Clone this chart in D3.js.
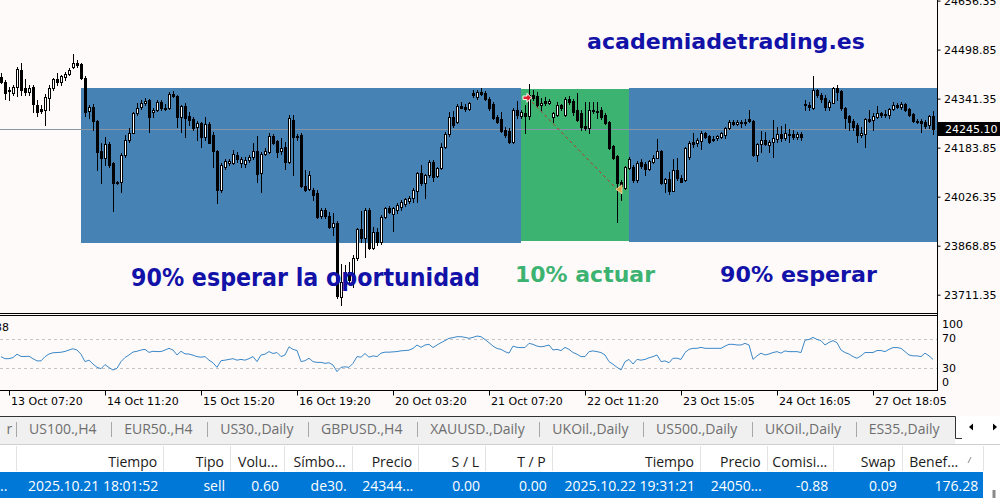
<!DOCTYPE html>
<html><head><meta charset="utf-8">
<script src="https://cdn.jsdelivr.net/npm/d3@7"></script>
<style>html,body{margin:0;padding:0;background:#fffafa;overflow:hidden}</style>
</head><body><svg id="c" width="1000" height="498"></svg>
<script>
// ---------------- DATA ----------------
const open=[24410,24394,24365,24359,24378,24433,24375,24362,24378,24321,
24308,24304,24343,24375,24404,24394,24410,24420,24443,24455,
24452,24407,24301,24314,24269,24173,24150,24195,24134,24070,
24073,24160,24208,24230,24295,24314,24327,24337,24298,24304,
24330,24311,24311,24356,24349,24282,24317,24285,24276,24250,
24263,24218,24260,24224,24173,24047,24121,24134,24134,24160,
24134,24131,24144,24153,24173,24102,24163,24169,24221,24205,
24173,24185,24137,24272,24221,24224,24060,24051,24047,24038,
23964,23983,23964,23929,23941,23704,23742,23784,23758,23829,
23922,23893,23983,23861,23912,23880,23961,23990,23970,23983,
23993,24002,24012,24022,24044,24102,24070,24096,24137,24092,
24118,24185,24227,24282,24266,24317,24314,24308,24359,24346,
24362,24359,24340,24324,24282,24276,24240,24237,24202,24304,
24285,24295,24285,24353,24349,24321,24333,24327,24282,24288,
24321,24288,24340,24333,24304,24295,24253,24247,24304,24301,
24304,24288,24266,24189,24157,24073,24054,24118,24121,24080,
24137,24131,24115,24137,24150,24173,24070,24083,24044,24112,
24086,24080,24153,24202,24198,24205,24230,24221,24211,24214,
24218,24224,24247,24266,24260,24266,24263,24276,24269,24160,
24195,24208,24192,24202,24211,24227,24214,24227,24227,24218,
24227,24324,24321,24311,24369,24353,24343,24314,24327,24375,
24365,24311,24285,24269,24256,24224,24227,24276,24272,24282,
24295,24292,24288,24308,24321,24314,24324,24308,24292,24269,
24269,24266,24256,24285];
const high=[24423,24401,24378,24385,24443,24455,24404,24385,24385,24337,
24321,24356,24385,24407,24423,24417,24427,24439,24484,24465,
24455,24414,24321,24324,24272,24198,24218,24202,24137,24076,
24166,24224,24247,24298,24327,24337,24343,24340,24311,24337,
24337,24324,24362,24365,24353,24321,24327,24298,24282,24269,
24266,24282,24266,24234,24176,24134,24147,24147,24176,24169,
24153,24153,24160,24198,24221,24169,24182,24230,24227,24208,
24214,24202,24288,24288,24227,24230,24112,24108,24054,24047,
23990,23990,23977,23974,23948,23810,23806,23816,23838,23925,
23980,23990,23990,23929,23925,23967,23993,23996,23993,24006,
24015,24022,24028,24054,24105,24128,24099,24144,24144,24121,
24198,24234,24298,24301,24324,24330,24324,24330,24369,24369,
24375,24365,24346,24330,24288,24298,24250,24247,24311,24333,
24304,24321,24388,24369,24362,24343,24346,24340,24298,24330,
24324,24346,24349,24340,24359,24304,24330,24330,24330,24330,
24314,24295,24269,24192,24160,24080,24124,24153,24128,24141,
24147,24137,24144,24160,24211,24176,24086,24105,24147,24150,
24096,24185,24205,24230,24214,24237,24234,24224,24221,24224,
24234,24250,24272,24272,24272,24272,24276,24304,24272,24198,
24237,24234,24208,24272,24250,24253,24260,24243,24240,24234,
24234,24337,24330,24414,24372,24359,24353,24337,24378,24385,
24369,24314,24288,24276,24263,24250,24279,24304,24295,24317,
24298,24304,24311,24330,24327,24330,24327,24311,24295,24276,
24276,24272,24288,24301];
const low=[24391,24340,24337,24353,24349,24353,24353,24353,24298,24285,
24295,24256,24304,24369,24385,24385,24401,24417,24439,24443,
24404,24285,24279,24240,24112,24070,24128,24121,23980,24067,
24041,24153,24202,24230,24288,24308,24321,24234,24282,24301,
24304,24304,24308,24346,24250,24234,24218,24256,24240,24208,
24185,24208,24198,24121,24006,24041,24115,24128,24131,24137,
24121,24121,24137,24147,24073,24041,24160,24166,24195,24153,
24163,24115,24134,24096,24208,24057,24044,24047,24015,23957,
23957,23957,23925,23903,23700,23678,23732,23745,23736,23822,
23880,23832,23858,23858,23870,23874,23957,23974,23915,23974,
23983,23996,24006,24009,24009,24063,24022,24089,24076,24089,
24115,24182,24221,24250,24263,24311,24301,24304,24346,24340,
24353,24337,24304,24276,24263,24234,24218,24198,24198,24279,
24279,24230,24276,24337,24314,24304,24321,24324,24266,24285,
24304,24285,24324,24288,24269,24240,24240,24230,24295,24279,
24276,24260,24179,24147,23944,24015,24051,24115,24073,24073,
24118,24096,24112,24134,24150,24067,24041,24035,24044,24080,
24073,24076,24147,24185,24189,24179,24214,24198,24205,24208,
24214,24214,24243,24256,24256,24250,24256,24266,24157,24141,
24169,24192,24169,24153,24202,24205,24208,24202,24211,24211,
24208,24304,24304,24308,24346,24330,24304,24304,24327,24337,
24304,24247,24240,24240,24202,24218,24185,24266,24240,24279,
24282,24282,24279,24304,24311,24308,24301,24285,24266,24263,
24234,24247,24247,24227];
const close=[24394,24359,24369,24378,24436,24369,24362,24375,24324,24298,
24301,24346,24375,24404,24394,24414,24420,24433,24455,24449,
24407,24298,24314,24269,24169,24150,24195,24128,24070,24073,
24160,24208,24230,24295,24311,24327,24333,24282,24304,24330,
24311,24308,24356,24349,24282,24317,24279,24272,24247,24263,
24218,24260,24198,24173,24047,24128,24141,24141,24163,24147,
24147,24144,24153,24173,24099,24163,24173,24221,24198,24169,
24182,24137,24279,24218,24218,24060,24047,24096,24031,23961,
23983,23964,23929,23941,23707,23752,23784,23758,23829,23922,
23893,23983,23861,23912,23880,23961,23990,23977,23990,23999,
24009,24018,24022,24047,24102,24070,24096,24137,24089,24118,
24185,24227,24282,24256,24317,24311,24308,24327,24353,24362,
24356,24340,24311,24279,24266,24237,24224,24202,24304,24288,
24298,24285,24353,24343,24321,24327,24327,24333,24295,24321,
24311,24340,24330,24298,24272,24250,24247,24304,24301,24298,
24282,24263,24182,24150,24070,24060,24121,24147,24080,24134,
24124,24115,24141,24150,24173,24070,24083,24044,24112,24086,
24073,24182,24198,24195,24208,24230,24218,24202,24208,24221,
24230,24247,24266,24260,24266,24263,24266,24269,24160,24195,
24208,24195,24202,24214,24227,24214,24230,24224,24218,24227,
24218,24321,24314,24369,24353,24340,24314,24330,24375,24362,
24311,24279,24266,24250,24224,24230,24276,24269,24285,24295,
24288,24290,24308,24321,24314,24324,24304,24288,24269,24266,
24263,24253,24285,24245.1];
const rsi=[45.7,43,43,44.5,49,46,46,46.3,43,40,
40,45.7,49.3,51,51.3,51.7,52.8,54.7,56.4,54.7,
49,39,41,35.8,31.3,29.5,35,31,27.7,30,
39,44.6,48,52,53,54.7,55.6,51.5,53,52.6,
52.6,54.7,57,54.7,48,53,49.5,49.3,47.7,45.8,
45,45.8,41,37.5,31.3,40.3,41,42,43,41,
42,41,43,45.8,39,48,49,52.6,50,51.3,
45.8,48,59,55.6,54,39,40.3,43.6,39,38,
38,36.7,37.5,34.5,25.5,31.3,32,31.3,36.7,45.8,
45,50,45,46.8,45.8,50.5,51.8,51.8,52.2,52.6,
53.6,54,54.5,56.8,61.5,58.3,61.5,62.4,58,61.5,
64.6,67.4,70.5,71.4,72.7,72.7,71.8,70.5,71.8,73.6,
72.7,69,64.6,60,56.8,55.6,52.5,50.5,60,58.3,
58,58,63.7,62.4,60,59,60,61.5,54.7,55.6,
54,58.3,55.6,51.3,49,45.8,45.8,52.5,53.5,52.5,
51.3,48,39,35.5,31.3,27.7,39,42,35.8,42,
41,42,44.2,45.8,48,39,40,37.5,43.6,43.6,
42,51.3,55.6,57,57,58.3,57,57,57,57,
57,60,62.4,62.4,61.5,61.5,63.7,61.5,42,46.8,
50.5,48,49.3,51.3,52.5,50.5,53.5,52.5,52.5,52.5,
51.3,68,69,71.8,69,67.4,61.5,65,67.4,64.6,
54.7,51.3,49.3,45.8,43.6,46.8,51.3,51.3,51.3,54,
54,52.5,55.6,58,58,57,52.5,48,46.8,46.8,
45.8,50.5,46.8,42];
const priceTicks=[24656.35,24498.85,24341.35,24183.85,24026.35,23868.85,23711.35];
const lastPrice=24245.10;
const rsiTicks=[100,70,30,0];
const rsiLevels=[70,30];
const rsiLabel="38";
const timeTickIdx=[2,26,50,74,98,122,146,170,194,218];
const timeLabels=["13 Oct 07:20","14 Oct 11:20","15 Oct 15:20","16 Oct 19:20","20 Oct 03:20","21 Oct 07:20","22 Oct 11:20","23 Oct 15:05","24 Oct 16:05","27 Oct 18:05"];
const boxFrom=[20,130,157];
const boxTo=[130,157,234];
const boxTop=[24375,24372,24374];
const boxBottom=[23878,23884,23881];
const boxKind=["wait","act","wait"];
const tradeIdx=[131.5,154.5];
const tradePrice=[24344,24050];
const site="academiadetrading.es";
const notes=["90% esperar la oportunidad","10% actuar","90% esperar"];
const tabs=["US100.,H4","EUR50.,H4","US30.,Daily","GBPUSD.,H4","XAUUSD.,Daily","UKOil.,Daily","US500.,Daily","UKOil.,Daily","ES35.,Daily"];
const headers=["Tiempo","Tipo","Volu...","Símbo...","Precio","S / L","T / P","Tiempo","Precio","Comisi...","Swap","Benef..."];
const row=["2025.10.21 18:01:52","sell","0.60","de30.","24344...","0.00","0.00","2025.10.22 19:31:21","24050...","-0.88","0.09","176.28"];

// ---------------- DRAW ----------------
const svg=d3.select("#c");
const W=1000,H=498;
const AX=937.5;
svg.append("rect").attr("width",W).attr("height",H).attr("fill","#fffafa");
const defs=svg.append("defs");
defs.append("clipPath").attr("id","mclip").append("rect").attr("x",0).attr("y",0).attr("width",937).attr("height",313);
defs.append("clipPath").attr("id","rclip").append("rect").attr("x",0).attr("y",316).attr("width",937).attr("height",74);

const n=close.length;
const x=d3.scaleLinear().domain([0,n-1]).range([1,933]);
const y=d3.scaleLinear().domain([23711.35,24656.35]).range([294.7,0.6]);
const yr=d3.scaleLinear().domain([0,100]).range([390.5,316.5]);

const main=svg.append("g").attr("clip-path","url(#mclip)");
const boxColor={wait:"#4682b4",act:"#3cb371"};
main.selectAll("rect.box").data(d3.range(boxFrom.length)).join("rect")
  .attr("x",k=>Math.round(x(boxFrom[k])))
  .attr("width",k=>Math.round(x(boxTo[k]))-Math.round(x(boxFrom[k])))
  .attr("y",k=>Math.round(y(boxTop[k])))
  .attr("height",k=>Math.round(y(boxBottom[k]))-Math.round(y(boxTop[k])))
  .attr("fill",k=>boxColor[boxKind[k]]);

// price line
const ly=Math.round(y(lastPrice))+0.5;
main.append("line").attr("x1",0).attr("x2",937).attr("y1",ly).attr("y2",ly).attr("stroke","#8797a8");

// texts
const tf="'DejaVu Sans', Verdana, sans-serif";
const blue="#1212a8";
svg.append("text").attr("x",587).attr("y",49).attr("font-family",tf).attr("font-weight","bold").attr("font-size",22)
  .attr("fill",blue).attr("textLength",278).attr("lengthAdjust","spacingAndGlyphs").text(site);
svg.append("text").attr("x",131).attr("y",285.5).attr("font-family",tf).attr("font-weight","bold").attr("font-size",24)
  .attr("fill",blue).attr("textLength",349).attr("lengthAdjust","spacingAndGlyphs").text(notes[0]);
svg.append("text").attr("x",515).attr("y",282).attr("font-family",tf).attr("font-weight","bold").attr("font-size",22)
  .attr("fill","#3cb371").attr("textLength",140).attr("lengthAdjust","spacingAndGlyphs").text(notes[1]);
svg.append("text").attr("x",720).attr("y",282).attr("font-family",tf).attr("font-weight","bold").attr("font-size",22)
  .attr("fill",blue).attr("textLength",157).attr("lengthAdjust","spacingAndGlyphs").text(notes[2]);

// candles
const candles=d3.range(n).map(i=>({i,o:open[i],h:high[i],l:low[i],c:close[i]}));
const cg=main.append("g");
cg.selectAll("rect.w").data(candles).join("rect")
  .attr("x",d=>Math.round(x(d.i)))
  .attr("y",d=>Math.round(y(d.h)))
  .attr("width",1)
  .attr("height",d=>Math.max(1,Math.round(y(d.l))-Math.round(y(d.h))+1))
  .attr("fill","#000");
const bodies=cg.selectAll("rect.b").data(candles).join("rect");
bodies.each(function(d){
  const cx=Math.round(x(d.i));
  const s=d3.select(this);
  if(d.c>d.o){
    const top=Math.round(y(d.c)),bot=Math.round(y(d.o));
    if(bot-top>=1){
      s.attr("x",cx-0.5).attr("y",top+0.5).attr("width",2).attr("height",bot-top).attr("fill","#fff").attr("stroke","#000").attr("stroke-width",1);
    } else {
      s.attr("x",cx-1).attr("y",top).attr("width",3).attr("height",1).attr("fill","#000");
    }
  } else {
    const top=Math.round(y(d.o)),bot=Math.round(y(d.c));
    s.attr("x",cx-1).attr("y",top).attr("width",3).attr("height",Math.max(1,bot-top+1)).attr("fill","#000");
  }
});

// trade
const ex=x(tradeIdx[0]),ey=y(tradePrice[0]),qx=x(tradeIdx[1]),qy=y(tradePrice[1]);
main.append("line").attr("x1",ex+1).attr("y1",ey).attr("x2",qx-2).attr("y2",qy).attr("stroke","#b8352a").attr("stroke-dasharray","3,3");
main.append("path").attr("d",`M${ex-4},${ey-1.8}L${ex},${ey-1.8}L${ex},${ey-4.5}L${ex+4.5},${ey}L${ex},${ey+4.5}L${ex},${ey+1.8}L${ex-4},${ey+1.8}Z`)
  .attr("fill","#e0202a").attr("stroke","#fff").attr("stroke-width",1);
main.append("path").attr("d",`M${qx-3},${qy}L${qx+3},${qy-4.5}L${qx+3},${qy+4.5}Z`)
  .attr("fill","#d7a24a").attr("stroke","#f3dfb0").attr("stroke-width",0.8);

// separators main / indicator
svg.append("line").attr("x1",0).attr("x2",AX).attr("y1",313.5).attr("y2",313.5).attr("stroke","#000");
svg.append("line").attr("x1",0).attr("x2",AX).attr("y1",315.5).attr("y2",315.5).attr("stroke","#000");
svg.append("line").attr("x1",0).attr("x2",AX).attr("y1",390.5).attr("y2",390.5).attr("stroke","#000");
svg.append("line").attr("x1",AX).attr("x2",AX).attr("y1",0).attr("y2",391).attr("stroke","#000");

// price axis
const pa=svg.append("g").attr("transform",`translate(${AX},0)`)
  .call(d3.axisRight(y).tickValues(priceTicks).tickFormat(d3.format(".2f")).tickSize(3).tickPadding(3.5));
pa.attr("font-family","'DejaVu Sans', sans-serif").attr("font-size",11);
pa.select(".domain").remove();
pa.selectAll("text").attr("fill","#000");
pa.selectAll("line").attr("stroke","#000");

// current price label
svg.append("rect").attr("x",938).attr("y",Math.round(y(lastPrice))-7).attr("width",62).attr("height",14).attr("fill","#000");
svg.append("text").attr("x",945).attr("y",Math.round(y(lastPrice))+4).attr("font-family","'DejaVu Sans', sans-serif").attr("font-size",11)
  .attr("fill","#fff").text(d3.format(".2f")(lastPrice));

// RSI panel
const rg=svg.append("g").attr("clip-path","url(#rclip)");
rg.selectAll("line.lv").data(rsiLevels).join("line")
  .attr("x1",0).attr("x2",937).attr("y1",d=>Math.round(yr(d))+0.5).attr("y2",d=>Math.round(yr(d))+0.5)
  .attr("stroke","#c4c4c4").attr("stroke-dasharray","3,3");
rg.append("path").datum(rsi).attr("d",d3.line().x((v,i)=>x(i)).y(v=>yr(v)))
  .attr("fill","none").attr("stroke","#3a88c8").attr("stroke-width",1);
svg.append("text").attr("x",9).attr("y",331).attr("text-anchor","end").attr("font-family","'DejaVu Sans', sans-serif").attr("font-size",11).attr("fill","#000").text(rsiLabel);
const ra=svg.append("g").attr("transform",`translate(${AX},0)`)
  .call(d3.axisRight(yr).tickValues(rsiTicks).tickSize(0).tickPadding(4.5));
ra.attr("font-family","'DejaVu Sans', sans-serif").attr("font-size",11);
ra.select(".domain").remove();
ra.selectAll("text").attr("fill","#000");
ra.selectAll(".tick").attr("transform",d=>`translate(0,${Math.min(382.3,Math.max(324.7,yr(d)))})`);

// time axis
const ta=svg.append("g").attr("transform","translate(0,390.5)")
  .call(d3.axisBottom(x).tickValues(timeTickIdx).tickFormat((d,i)=>timeLabels[i]).tickSize(5).tickPadding(2));
ta.attr("font-family","'DejaVu Sans', sans-serif").attr("font-size",11);
ta.select(".domain").remove();
ta.selectAll("line").attr("stroke","#000");
ta.selectAll("text").attr("fill","#000").attr("text-anchor","start").attr("x",1.5);

// ---------------- TERMINAL UI ----------------
const uf="'Open Sans','Noto Sans',sans-serif";
svg.append("rect").attr("x",0).attr("y",416.5).attr("width",1000).attr("height",82).attr("fill","#ffffff");
svg.append("rect").attr("x",0).attr("y",417).attr("width",955).attr("height",27).attr("fill","#f0f0f0");
svg.append("line").attr("x1",0).attr("x2",955.5).attr("y1",416.5).attr("y2",416.5).attr("stroke","#333");
svg.append("line").attr("x1",955.5).attr("x2",955.5).attr("y1",416.5).attr("y2",438.5).attr("stroke","#333");
svg.append("line").attr("x1",955.5).attr("x2",962).attr("y1",438.5).attr("y2",438.5).attr("stroke","#333");
svg.append("line").attr("x1",0).attr("x2",1000).attr("y1",444.5).attr("y2",444.5).attr("stroke","#cfcfcf");
svg.append("path").attr("d","M969,427L973,423.5L973,430.5Z").attr("fill","#000");
svg.append("path").attr("d","M997,427L993,423.5L993,430.5Z").attr("fill","#000");

const tg=svg.append("g").attr("font-family",uf).attr("font-size",14).attr("fill","#6e6e6e");
let sep=15.7;
tg.append("text").attr("x",6.5).attr("y",434).text("r");
tabs.forEach(t=>{
  tg.append("line").attr("x1",Math.round(sep)+0.5).attr("x2",Math.round(sep)+0.5).attr("y1",422).attr("y2",437).attr("stroke","#a8a8a8");
  const tx=tg.append("text").attr("x",sep+13.3).attr("y",434).text(t);
  const w=tx.node().getComputedTextLength();
  sep=sep+13.3+w+14.4;
});

// table
const colRight=[163.3,230,284,351.7,418.3,485,551.7,700,766.7,833.3,901.7,982.7];
svg.append("rect").attr("x",0).attr("y",472).attr("width",983).attr("height",26).attr("fill","#0078d7");
const hg=svg.append("g").attr("font-family",uf).attr("font-size",14);
[15.7].concat(colRight).forEach(cx=>{
  hg.append("line").attr("x1",Math.round(cx)+0.5).attr("x2",Math.round(cx)+0.5).attr("y1",446).attr("y2",471).attr("stroke","#e3e3e3");
});
headers.forEach((h,k)=>{
  const rx=k===headers.length-1?958.3:colRight[k]-6;
  hg.append("text").attr("x",rx).attr("y",466.5).attr("text-anchor","end").attr("fill","#1a1a1a").text(h);
});
hg.append("line").attr("x1",968).attr("y1",463).attr("x2",971).attr("y2",457).attr("stroke","#8a8a8a");
row.forEach((v,k)=>{
  const rx=k===row.length-1?978.3:colRight[k]-5;
  hg.append("text").attr("x",rx).attr("y",491).attr("text-anchor","end").attr("fill","#fff").text(v);
});
hg.append("text").attr("x",0).attr("y",491).attr("fill","#fff").text("..");
svg.append("rect").attr("x",992.5).attr("y",490).attr("width",3).attr("height",8).attr("fill","#8a8a8a");
</script></body></html>
